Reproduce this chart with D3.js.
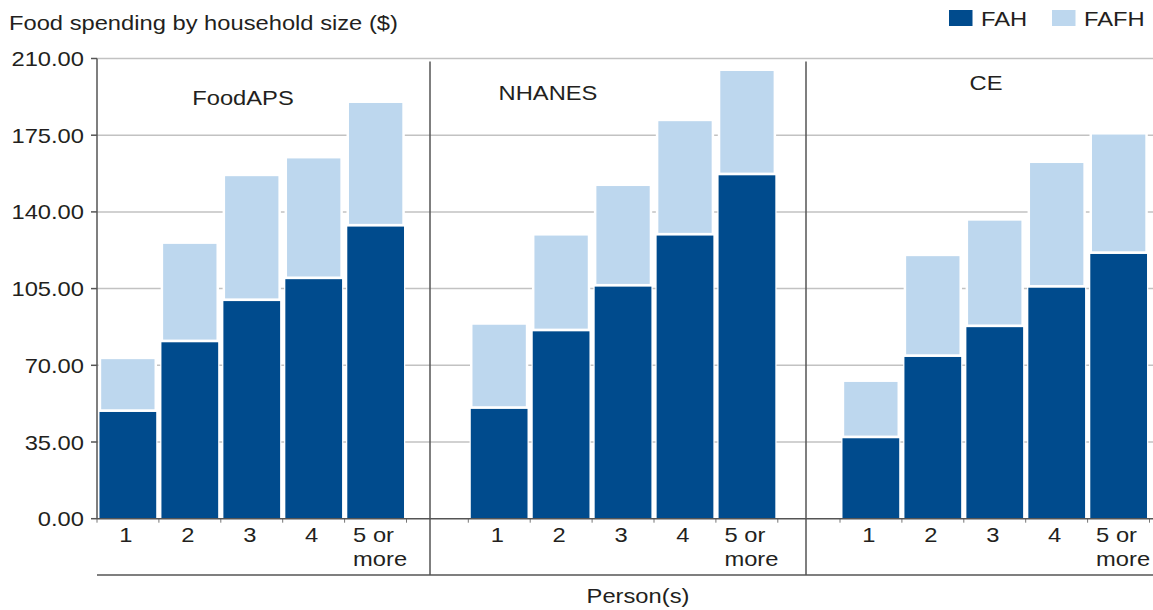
<!DOCTYPE html>
<html>
<head>
<meta charset="utf-8">
<script src="https://cdn.jsdelivr.net/npm/d3@7"></script>
<style>
html,body{margin:0;padding:0;background:#fff;}
svg{display:block;}
text{font-family:"Liberation Sans",Arial,Helvetica,sans-serif;fill:#231f20;}
</style>
</head>
<body>
<svg id="chart" width="1153" height="610"></svg>
<script>
// ---- data ----
const categories = ["1", "2", "3", "4", "5 or more"];
const surveys = ["FoodAPS", "NHANES", "CE"];
const seriesNames = ["FAH", "FAFH"];
const fahFoodAPS  = [48.7, 80.5, 99.3, 109.3, 133.3];
const fafhFoodAPS = [24.1, 44.9, 57.0, 55.1, 56.4];
const fahNHANES   = [50.1, 85.5, 105.9, 129.2, 156.7];
const fafhNHANES  = [38.4, 43.7, 45.9, 52.2, 47.6];
const fahCE       = [36.7, 73.8, 87.4, 105.4, 120.8];
const fafhCE      = [25.7, 46.0, 48.6, 56.9, 54.5];
const yTicks = [0, 35, 70, 105, 140, 175, 210];
const title = "Food spending by household size ($)";
const xTitle = "Person(s)";

// ---- layout ----
const W = 1153, H = 610;
const SX = 1.13;           // horizontal text stretch of the reference
const FS = 21;
const yTop = 58.5, yBot = 518.7;
const axisX = 97, rightX = 1153, bottomLineY = 575;
const panelStarts = [97, 468.3, 840];
const panelWidth = 309.5;
const dividers = [430, 806];
const labelPos = [[243, 105], [548, 100], [986, 90]];
const colors = {FAH: "#004b8d", FAFH: "#bdd7ee"};

const fahBy = {FoodAPS: fahFoodAPS, NHANES: fahNHANES, CE: fahCE};
const fafhBy = {FoodAPS: fafhFoodAPS, NHANES: fafhNHANES, CE: fafhCE};

const svg = d3.select("#chart");
const y = d3.scaleLinear().domain([0, 210]).range([yBot, yTop]);

function stext(g, str, x, yy, anchor, size) {
  const t = g.append("text")
    .attr("transform", `translate(${x},${yy}) scale(${SX},1)`)
    .attr("font-size", size || FS)
    .attr("text-anchor", anchor || "start")
    .text(str);
  return t;
}

// gridlines
svg.append("g").selectAll("line").data(yTicks).join("line")
  .attr("x1", axisX).attr("x2", rightX)
  .attr("y1", d => y(d)).attr("y2", d => y(d))
  .attr("stroke", d => d === 0 ? "none" : "#c2c2c2").attr("stroke-width", 1.5);

// bars
const bars = svg.append("g");
surveys.forEach((s, pi) => {
  const x = d3.scaleBand().domain(categories)
    .range([panelStarts[pi], panelStarts[pi] + panelWidth])
    .paddingInner(0.044).paddingOuter(0.02);
  const xt = d3.scaleBand().domain(categories)
    .range([panelStarts[pi], panelStarts[pi] + panelWidth]).padding(0);
  const bw = x.bandwidth();
  const rows = categories.map((c, i) => ({c, fah: fahBy[s][i], fafh: fafhBy[s][i]}));
  const g = bars.append("g");
  // white halos
  g.selectAll("rect.h1").data(rows).join("rect")
    .attr("x", d => x(d.c)).attr("width", bw)
    .attr("y", d => y(d.fah) - 1.3).attr("height", d => y(0) - y(d.fah) + 1.3)
    .attr("fill", "#fff");
  g.selectAll("rect.h2").data(rows).join("rect")
    .attr("x", d => x(d.c) + 0.45).attr("width", bw - 0.9)
    .attr("y", d => y(d.fah + d.fafh) - 1.3)
    .attr("height", d => y(d.fah) - y(d.fah + d.fafh) + 1.3)
    .attr("fill", "#fff");
  // FAH
  g.selectAll("rect.fah").data(rows).join("rect").attr("class", "fah")
    .attr("x", d => x(d.c) + 1.25).attr("width", bw - 2.5)
    .attr("y", d => y(d.fah)).attr("height", d => y(0) - y(d.fah))
    .attr("fill", colors.FAH);
  // FAFH
  g.selectAll("rect.fafh").data(rows).join("rect").attr("class", "fafh")
    .attr("x", d => x(d.c) + 2.95).attr("width", bw - 5.9)
    .attr("y", d => y(d.fah + d.fafh))
    .attr("height", d => Math.max(0, y(d.fah) - y(d.fah + d.fafh) - 2.7))
    .attr("fill", colors.FAFH);

  // small ticks below axis at band boundaries
  const bnds = categories.map(c => xt(c)).concat([xt(categories[4]) + xt.bandwidth()]);
  g.selectAll("line.bt").data(bnds).join("line")
    .attr("x1", d => d).attr("x2", d => d)
    .attr("y1", yBot).attr("y2", yBot + 4)
    .attr("stroke", "#777").attr("stroke-width", 1);

  // category labels
  categories.forEach(c => {
    const cx = xt(c) + xt.bandwidth() / 2 - 2;
    const parts = c === "5 or more" ? ["5 or", "more"] : [c];
    if (parts.length === 1) {
      stext(g, parts[0], cx, 542, "middle");
    } else {
      const tmp = stext(g, parts[0], 0, 0, "start");
      const w0 = tmp.node().getComputedTextLength() * SX;
      tmp.remove();
      stext(g, parts[0], cx - w0 / 2, 542, "start");
      stext(g, parts[1], cx - w0 / 2, 566, "start");
    }
  });

  // panel label
  stext(g, s, labelPos[pi][0], labelPos[pi][1], "middle");
});

// axes lines
const ax = svg.append("g").attr("stroke", "#555").attr("stroke-width", 1.5);
ax.append("line").attr("x1", axisX).attr("x2", axisX).attr("y1", yTop).attr("y2", yBot);
ax.append("line").attr("x1", axisX).attr("x2", rightX).attr("y1", yBot).attr("y2", yBot);
ax.append("line").attr("x1", axisX).attr("x2", rightX).attr("y1", bottomLineY).attr("y2", bottomLineY);
dividers.forEach(dx => {
  ax.append("line").attr("x1", dx).attr("x2", dx).attr("y1", 61.5).attr("y2", bottomLineY);
});

// y ticks + labels
const yg = svg.append("g");
yg.selectAll("line").data(yTicks).join("line")
  .attr("x1", 91).attr("x2", axisX).attr("y1", d => y(d)).attr("y2", d => y(d))
  .attr("stroke", "#555").attr("stroke-width", 1.5);
yTicks.forEach(t => stext(yg, d3.format(".2f")(t), 84, y(t) + 7.5, "end"));

// title
stext(svg, title, 9, 29.5, "start");
// x title
stext(svg, xTitle, 638, 603, "middle");

// legend
const lg = svg.append("g");
const legX = [949, 1052];
seriesNames.forEach((n, i) => {
  lg.append("rect").attr("x", legX[i]).attr("y", 10).attr("width", 23.5).attr("height", 16)
    .attr("fill", colors[n]);
  stext(lg, n, legX[i] + 32, 26, "start");
});
</script>
</body>
</html>
